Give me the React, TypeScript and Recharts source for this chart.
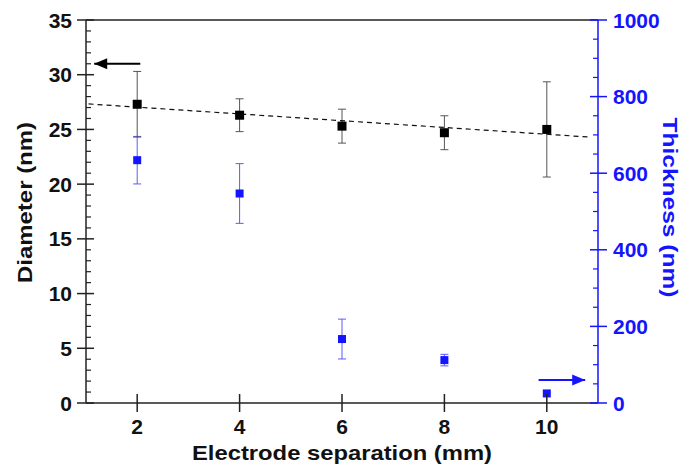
import { ComposedChart, Scatter, XAxis, YAxis, ErrorBar, ReferenceLine, Label } from 'recharts';

// electrode separation (mm)
const separation = [2, 4, 6, 8, 10];
// nanofiber diameter (nm), left axis
const diameter = [27.3, 26.3, 25.3, 24.7, 25.0];
const diameterErr = [3.0, 1.5, 1.55, 1.55, 4.35];
// film thickness (nm), right axis
const thickness = [634, 547, 167, 112, 25];
const thicknessErr = [62, 78, 52, 15, 0];
// dashed linear fit of diameter
const fitX = [1.05, 10.8];
const fitY = [27.33, 24.31];
// arrows pointing to the axis each series belongs to
const diameterArrowX = [2.06, 1.16];
const diameterArrowY = 31;
const thicknessArrowX = [9.84, 10.75];
const thicknessArrowY = 60;

const leftTicks = Array.from({ length: 36 }, (_, i) => i);
const rightTicks = Array.from({ length: 21 }, (_, i) => i * 50);
const xTicks = [2, 4, 6, 8, 10];

const diamData = separation.map((x, i) => ({ x, y: diameter[i], err: diameterErr[i] }));
const thickData = separation.map((x, i) => ({ x, y: thickness[i], err: thicknessErr[i] }));
const fitData = fitX.map((x, i) => ({ x, y: fitY[i] }));
const diamArrow = diameterArrowX.map((x) => ({ x, y: diameterArrowY }));
const thickArrow = thicknessArrowX.map((x) => ({ x, y: thicknessArrowY }));

const FONT = '"Liberation Sans", Arial, sans-serif';
const BLUE = '#1414ff';

const LeftTick = (props: any) => {
  const { x, y, payload } = props;
  const v = payload.value;
  if (v % 5 === 0) {
    return (
      <g>
        <line x1={x - 9} x2={x + 8} y1={y} y2={y} stroke="#222" strokeWidth={1.5} />
        <text x={x - 14} y={y} dy="0.36em" textAnchor="end" fontSize={21} fontWeight="bold" fontFamily={FONT} fill="#111">
          {v}
        </text>
      </g>
    );
  }
  return <line x1={x} x2={x + 5} y1={y} y2={y} stroke="#222" strokeWidth={1.2} />;
};

const RightTick = (props: any) => {
  const { x, y, payload } = props;
  const v = payload.value;
  if (v % 200 === 0) {
    return (
      <g>
        <line x1={x - 8} x2={x + 9} y1={y} y2={y} stroke={BLUE} strokeWidth={1.5} />
        <text x={x + 15} y={y} dy="0.36em" textAnchor="start" fontSize={21} fontWeight="bold" fontFamily={FONT} fill={BLUE}>
          {v}
        </text>
      </g>
    );
  }
  return <line x1={x - 5} x2={x} y1={y} y2={y} stroke={BLUE} strokeWidth={1.2} />;
};

const BottomTick = (props: any) => {
  const { x, y, payload } = props;
  return (
    <g>
      <line x1={x} x2={x} y1={y - 9} y2={y + 9} stroke="#222" strokeWidth={1.5} />
      <text x={x} y={y + 31} textAnchor="middle" fontSize={21} fontWeight="bold" fontFamily={FONT} fill="#111">
        {payload.value}
      </text>
    </g>
  );
};

const square = (size: number, fill: string) => (p: any) => (
  <rect x={p.cx - size / 2} y={p.cy - size / 2} width={size} height={size} fill={fill} />
);

const noDot = () => <g />;

const arrowHead = (tipX: number, dir: number, fill: string) => (p: any) => {
  if (p.payload.x !== tipX) return <g />;
  const { cx, cy } = p;
  return <polygon points={`${cx},${cy} ${cx - dir * 13},${cy - 5.5} ${cx - dir * 13},${cy + 5.5}`} fill={fill} />;
};

const DiameterLabel = (props: any) => {
  const vb = props.viewBox;
  const cx = vb.x + 24;
  const cy = vb.y + vb.height / 2 - 9;
  return (
    <text x={cx} y={cy} transform={`rotate(-90 ${cx} ${cy})`} textAnchor="middle" dominantBaseline="central"
      fontSize={21} fontWeight="bold" fontFamily={FONT} fill="#111" textLength={161} lengthAdjust="spacingAndGlyphs">
      Diameter (nm)
    </text>
  );
};

const ThicknessLabel = (props: any) => {
  const vb = props.viewBox;
  const cx = vb.x + 72;
  const cy = vb.y + vb.height / 2 - 4;
  return (
    <text x={cx} y={cy} transform={`rotate(90 ${cx} ${cy})`} textAnchor="middle" dominantBaseline="central"
      fontSize={21} fontWeight="bold" fontFamily={FONT} fill={BLUE} textLength={180} lengthAdjust="spacingAndGlyphs">
      Thickness (nm)
    </text>
  );
};

const XLabel = (props: any) => {
  const vb = props.viewBox;
  return (
    <text x={vb.x + vb.width / 2} y={vb.y + 57} textAnchor="middle" fontSize={21} fontWeight="bold" fontFamily={FONT}
      fill="#111" textLength={300} lengthAdjust="spacingAndGlyphs">
      Electrode separation (mm)
    </text>
  );
};

export default function App() {
  return (
    <div style={{ position: 'absolute', left: 0, top: 0, background: '#fff' }}>
      <ComposedChart width={697} height={470} margin={{ top: 20, right: 0, bottom: 0, left: 0 }}>
        <XAxis dataKey="x" type="number" domain={[1, 11]} ticks={xTicks} height={67} tickSize={0} tickMargin={0}
          tick={<BottomTick />} axisLine={{ stroke: '#222', strokeWidth: 1.5 }} tickLine={false} allowDataOverflow>
          <Label content={<XLabel />} />
        </XAxis>
        <YAxis yAxisId="left" dataKey="y" type="number" domain={[0, 35]} ticks={leftTicks} interval={0} width={86}
          tickSize={0} tickMargin={0} tick={<LeftTick />} tickLine={false} axisLine={{ stroke: '#222', strokeWidth: 1.5 }}
          allowDataOverflow>
          <Label content={<DiameterLabel />} />
        </YAxis>
        <YAxis yAxisId="right" orientation="right" dataKey="y" type="number" domain={[0, 1000]} ticks={rightTicks}
          interval={0} width={99} tickSize={0} tickMargin={0} tick={<RightTick />} tickLine={false}
          axisLine={{ stroke: BLUE, strokeWidth: 1.5 }} allowDataOverflow>
          <Label content={<ThicknessLabel />} />
        </YAxis>
        <ReferenceLine yAxisId="left" y={35} stroke="#222" strokeWidth={1.5} />
        <Scatter yAxisId="left" data={fitData} line={{ stroke: '#111', strokeWidth: 1.2, strokeDasharray: '5 4' }}
          shape={noDot} isAnimationActive={false} />
        <Scatter yAxisId="right" data={thickData} shape={square(8, BLUE)} isAnimationActive={false}>
          <ErrorBar dataKey="err" direction="y" width={4} stroke="#5a5aff" strokeWidth={1} />
        </Scatter>
        <Scatter yAxisId="left" data={diamData} shape={square(9, '#000')} isAnimationActive={false}>
          <ErrorBar dataKey="err" direction="y" width={4} stroke="#555" strokeWidth={1} />
        </Scatter>
        <Scatter yAxisId="left" data={diamArrow} line={{ stroke: '#000', strokeWidth: 2 }}
          shape={arrowHead(diameterArrowX[1], -1, '#000')} isAnimationActive={false} />
        <Scatter yAxisId="right" data={thickArrow} line={{ stroke: BLUE, strokeWidth: 2 }}
          shape={arrowHead(thicknessArrowX[1], 1, BLUE)} isAnimationActive={false} />
      </ComposedChart>
    </div>
  );
}
